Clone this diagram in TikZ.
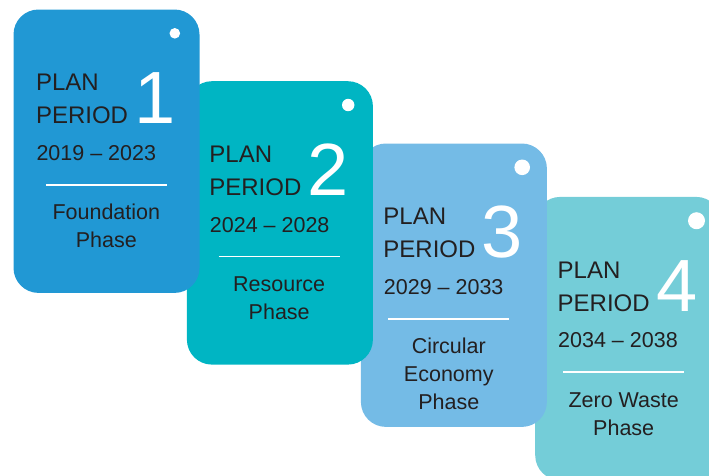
\documentclass[tikz,border=0pt]{standalone}
\usepackage{fontspec}
\setmainfont{Liberation Sans}
\usetikzlibrary{calc}

\definecolor{cardA}{RGB}{33,152,212}
\definecolor{cardB}{RGB}{0,181,195}
\definecolor{cardC}{RGB}{116,187,230}
\definecolor{cardD}{RGB}{116,205,216}
\definecolor{ink}{RGB}{35,31,32}

\tikzset{
  cardbox/.style={rectangle, draw=none, inner sep=0pt, anchor=north west,
    minimum width=186pt, minimum height=283.4pt, rounded corners=25pt},
  heading/.style={anchor=base west, inner sep=0pt, text=ink,
    font=\fontsize{24}{28}\selectfont},
  bignum/.style={anchor=base west, inner sep=0pt, text=white,
    font=\fontsize{74}{80}\selectfont},
  years/.style={anchor=base west, inner sep=0pt, text=ink,
    font=\fontsize{21.5}{26}\selectfont},
  phase/.style={anchor=base, inner sep=0pt, align=center, text=ink,
    font=\fontsize{21.5}{28}\selectfont},
  rule/.style={draw=white, line width=1.6pt},
}

% #1 name, #2 top-left corner, #3 fill, #4 period number, #5 years,
% #6 phase name, #7 horizontal centre of the lower text, #8 radius of the hole,
% #9 baseline of the last line of the phase name, below the card top
\newcommand\plancard[9]{%
  \node[cardbox, fill=#3] (#1) at (#2) {};
  \node[heading] (#1-plan) at ($(#1.north west)+(22.5,81.5)$) {PLAN};
  \node[heading] (#1-period) at ($(#1.north west)+(22.5,114.5)$) {PERIOD};
  \node[bignum] (#1-num) at ($(#1.north west)+(121,114.5)$) {#4};
  \node[years] (#1-years) at ($(#1.north west)+(23,151)$) {#5};
  \draw[rule] ($(#1.north west)+(#7-60.5,175.5)$) -- ++(121,0);
  \node[phase] (#1-phase) at ($(#1.north west)+(#7,#9)$) {#6};
  \fill[white] ($(#1.north west)+(161.5,24)$) circle (#8);
}

\begin{document}
\begin{tikzpicture}[x=1pt, y=-1pt]
  \clip (0,0) rectangle (709,475);
  % later periods lie underneath the earlier ones
  \plancard{card4}{535,196.7}{cardD}{4}{2034 \textendash{} 2038}{Zero Waste\\Phase}{88.7}{8.5}{238.5}
  \plancard{card3}{360.7,143.3}{cardC}{3}{2029 \textendash{} 2033}{Circular\\Economy\\Phase}{88.1}{7.8}{266.5}
  \plancard{card2}{186.7,81}{cardB}{2}{2024 \textendash{} 2028}{Resource\\Phase}{92.5}{6.2}{238.5}
  \plancard{card1}{13.3,9.3}{cardA}{1}{2019 \textendash{} 2023}{Foundation\\Phase}{93}{5.3}{238.5}
\end{tikzpicture}
\end{document}
